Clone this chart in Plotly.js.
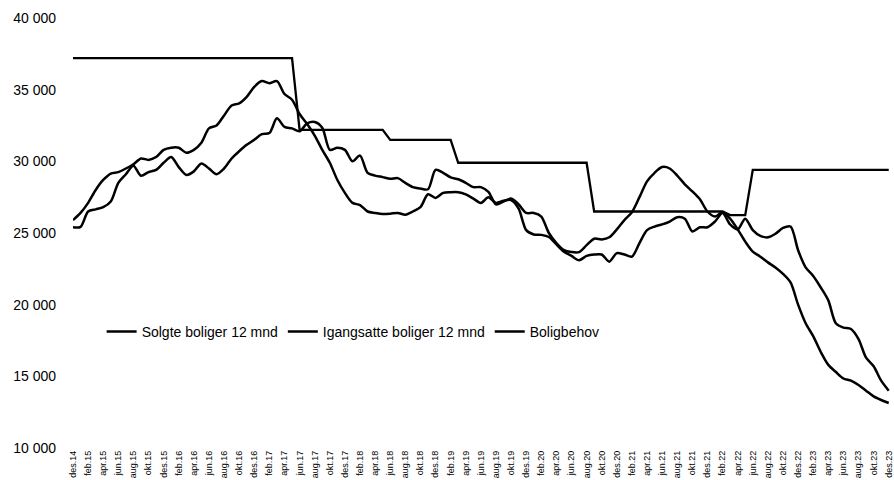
<!DOCTYPE html>
<html>
<head>
<meta charset="utf-8">
<script src="https://cdn.plot.ly/plotly-3.0.1.min.js"></script>
<style>html,body{margin:0;padding:0;background:#fff;}#chart{width:894px;height:480px;}</style>
</head>
<body>
<div id="chart"></div>
<script>
// Tick labels (every second month, des.14 – des.23)
const tickLabels = [
  "des.14",
  "feb.15","apr.15","jun.15","aug.15","okt.15","des.15",
  "feb.16","apr.16","jun.16","aug.16","okt.16","des.16",
  "feb.17","apr.17","jun.17","aug.17","okt.17","des.17",
  "feb.18","apr.18","jun.18","aug.18","okt.18","des.18",
  "feb.19","apr.19","jun.19","aug.19","okt.19","des.19",
  "feb.20","apr.20","jun.20","aug.20","okt.20","des.20",
  "feb.21","apr.21","jun.21","aug.21","okt.21","des.21",
  "feb.22","apr.22","jun.22","aug.22","okt.22","des.22",
  "feb.23","apr.23","jun.23","aug.23","okt.23","des.23"
];

// Monthly values, des.14 .. des.23 (109 months)
const solgte = [
  25900,26400,27100,28000,28700,29150,29250,29500,29800,30200,
  30100,30300,30800,30950,30950,30600,30800,31300,32300,32500,
  33200,33900,34050,34500,35200,35600,35450,35600,34700,34300,
  33300,32600,31800,30800,29900,28700,27800,27100,26950,26500,
  26400,26330,26350,26400,26280,26500,26800,27700,27450,27800,
  27850,27850,27700,27400,27100,27500,27100,27250,27300,26700,
  25200,24900,24870,24720,24200,23700,23400,23100,23400,23500,
  23500,23000,23600,23500,23350,24300,25200,25450,25600,25800,
  26100,26000,25100,25400,25400,25800,26400,25600,25250,26000,
  25200,24800,24700,24950,25350,25450,23800,22600,22000,21200,
  20300,18700,18400,18300,17600,16300,15700,14700,14000
];

const igangsatte = [
  25400,25430,26500,26650,26800,27200,28500,29100,29700,29000,
  29250,29400,29900,30300,29600,29050,29300,29850,29500,29100,
  29500,30200,30700,31150,31500,31900,31970,33000,32400,32300,
  32100,32650,32750,32350,30800,30950,30800,30000,30400,29200,
  29000,28900,28780,28830,28500,28200,28100,28050,29400,29200,
  28880,28750,28500,28200,28200,27870,27000,27200,27400,27000,
  26400,26400,26150,25000,24300,23800,23670,23670,24150,24600,
  24550,24700,25250,25900,26450,27500,28600,29200,29600,29500,
  29000,28400,27900,27350,26500,26150,26450,26000,25250,24400,
  23700,23350,22950,22600,22150,21550,20000,18700,17800,16700,
  15800,15300,14850,14700,14400,14000,13600,13350,13140
];

const boligbehov = [
  37200,37200,37200,37200,37200,37200,37200,37200,37200,37200,
  37200,37200,37200,37200,37200,37200,37200,37200,37200,37200,
  37200,37200,37200,37200,37200,37200,37200,37200,37200,37200,
  32200,32200,32200,32200,32200,32200,32200,32200,32200,32200,
  32200,32200,31500,31500,31500,31500,31500,31500,31500,31500,
  31500,29900,29900,29900,29900,29900,29900,29900,29900,29900,
  29900,29900,29900,29900,29900,29900,29900,29900,29900,26500,
  26500,26500,26500,26500,26500,26500,26500,26500,26500,26500,
  26500,26500,26500,26500,26500,26500,26500,26250,26250,26250,
  29400,29400,29400,29400,29400,29400,29400,29400,29400,29400,
  29400,29400,29400,29400,29400,29400,29400,29400,29400
];

const months = solgte.map((_, i) => i);
const tickVals = tickLabels.map((_, i) => i * 2);

const waveLine = {color: "#000000", width: 2.5, shape: "spline", smoothing: 0.8};

const traces = [
  {x: months, y: solgte, type: "scatter", mode: "lines", name: "Solgte boliger 12 mnd", line: waveLine},
  {x: months, y: igangsatte, type: "scatter", mode: "lines", name: "Igangsatte boliger 12 mnd", line: waveLine},
  {x: months, y: boligbehov, type: "scatter", mode: "lines", name: "Boligbehov", line: {color: "#000000", width: 2.3}}
];

const layout = {
  width: 894, height: 480,
  margin: {l: 73, r: 3, t: 18, b: 32},
  paper_bgcolor: "#ffffff", plot_bgcolor: "#ffffff",
  separators: ", ",
  font: {family: "Liberation Sans, Arial, sans-serif", color: "#000000"},
  showlegend: true,
  legend: {
    orientation: "h", x: 0.035, y: 0.27, xanchor: "left", yanchor: "middle",
    font: {size: 14, family: "Liberation Sans, Arial, sans-serif", color: "#000"},
    bgcolor: "rgba(0,0,0,0)"
  },
  xaxis: {
    range: [0, 108.3], showgrid: false, zeroline: false, showline: false,
    tickmode: "array", tickvals: tickVals, ticktext: tickLabels,
    tickangle: -90, ticks: "",
    tickfont: {size: 9, family: "Liberation Sans Narrow, Arial Narrow, Liberation Sans, sans-serif", color: "#000"}
  },
  yaxis: {
    range: [10000, 40000], showgrid: false, zeroline: false, showline: false,
    tickmode: "array", tickvals: [10000, 15000, 20000, 25000, 30000, 35000, 40000],
    tickformat: ",d", ticks: "", ticklabelstandoff: 16,
    tickfont: {size: 14, family: "Liberation Sans, Arial, sans-serif", color: "#000"}
  }
};

Plotly.newPlot("chart", traces, layout, {displayModeBar: false, staticPlot: true});
</script>
</body>
</html>
